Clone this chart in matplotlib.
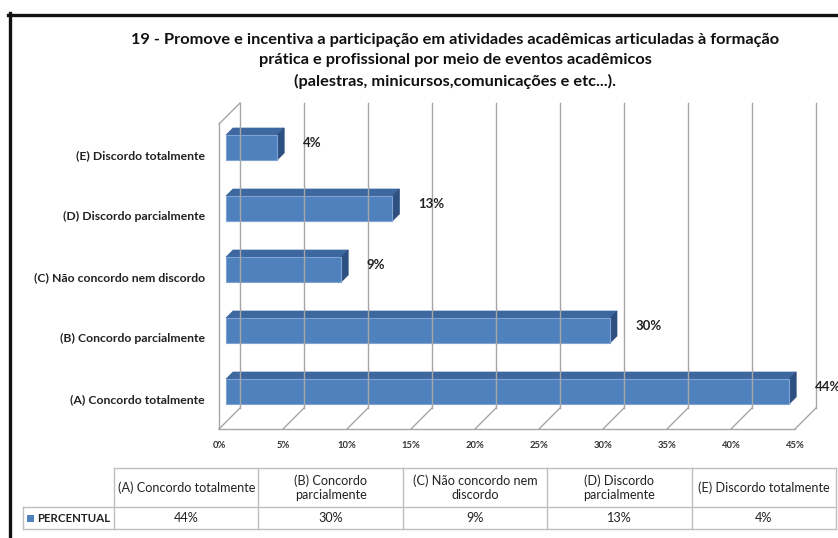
import matplotlib
matplotlib.use("Agg")
import matplotlib.pyplot as plt
from matplotlib.patches import Polygon, Rectangle
from matplotlib.lines import Line2D

plt.rcParams['font.family'] = ['Lato', 'DejaVu Sans']

# data (bottom to top, as drawn)
categories = ['(A) Concordo totalmente', '(B) Concordo parcialmente',
              '(C) Não concordo nem discordo', '(D) Discordo parcialmente',
              '(E) Discordo totalmente']
header_labels = ['(A) Concordo totalmente', '(B) Concordo\nparcialmente',
                 '(C) Não concordo nem\ndiscordo', '(D) Discordo\nparcialmente',
                 '(E) Discordo totalmente']
values = [44, 30, 9, 13, 4]
xticks = list(range(0, 50, 5))
series_name = 'PERCENTUAL'
title = ('19 - Promove e incentiva a participação em atividades acadêmicas articuladas à formação\n'
         'prática e profissional por meio de eventos acadêmicos\n'
         '(palestras, minicursos,comunicações e etc...).')

W, H = 838, 538
def px(x0, y0, x1, y1):
    return [x0 / W, 1 - y1 / H, (x1 - x0) / W, (y1 - y0) / H]

fig = plt.figure(figsize=(W / 100, H / 100), dpi=100)

# outer frame (left and top only, the rest is cropped)
fig.add_artist(Line2D([9.5 / W, 9.5 / W], [0, 1 - 13 / H], color='#111111', lw=2.4))
fig.add_artist(Line2D([8 / W, 1], [1 - 14.5 / H, 1 - 14.5 / H], color='#111111', lw=2.4))

fig.text(455 / W, 1 - 61 / H, title, ha='center', va='center', fontsize=11.8,
         fontweight='bold', linespacing=1.55, color='#111111')

# 3D-looking bar chart
DX = 21 / 12.8      # depth offset in % units
DY = 21 / 61.0      # depth offset in category units
ax = fig.add_axes(px(219, 103, 816, 429))
ax.set_xlim(0, 45 + DX)
ax.set_ylim(-0.5, 4.5 + DY)
ax.patch.set_visible(False)
for s in ax.spines.values():
    s.set_visible(False)

grid = '#a6a6a6'
for t in xticks:
    ax.plot([t + DX, t + DX], [-0.5 + DY, 4.5 + DY], color=grid, lw=1, clip_on=False)
    ax.plot([t, t + DX], [-0.5, -0.5 + DY], color=grid, lw=1, clip_on=False)
ax.plot([0, 45], [-0.5, -0.5], color=grid, lw=1, clip_on=False)
ax.plot([0, 0], [-0.5, 4.5], color=grid, lw=1, clip_on=False)
ax.plot([0, DX], [4.5, 4.5 + DY], color=grid, lw=1, clip_on=False)

front = '#4f81bd'
top = '#3d679f'
side = '#2d5080'
bh = 0.41
d = DX / 3
e = DY / 3
for i, v in enumerate(values):
    x0 = d
    x1 = d + v
    yb = i + e - bh / 2
    yt = i + e + bh / 2
    ax.add_patch(Polygon([(x0, yt), (x1, yt), (x1 + d, yt + e), (x0 + d, yt + e)],
                         closed=True, fc=top, ec=top, lw=0.5, clip_on=False))
    ax.add_patch(Polygon([(x1, yb), (x1, yt), (x1 + d, yt + e), (x1 + d, yb + e)],
                         closed=True, fc=side, ec=side, lw=0.5, clip_on=False))
    ax.add_patch(Rectangle((x0, yb), v, bh, fc=front, ec='#7fa3d3', lw=0.8, clip_on=False))
    ax.text(x1 + 2.0, i + e + 0.08, f'{v}%', ha='left', va='center', fontsize=9.5,
            fontweight='bold', color='#222222', clip_on=False)

ax.set_yticks(range(len(categories)))
ax.set_yticklabels(categories, fontsize=8.8, fontweight='bold', color='#222222')
ax.set_xticks(xticks)
ax.set_xticklabels([f'{t}%' for t in xticks], fontsize=6.8, fontweight='bold', color='#333333')
ax.tick_params(axis='y', length=0, pad=10)
ax.tick_params(axis='x', length=0, pad=9)

# data table below the chart
tx = fig.add_axes(px(23, 468, 836, 529))
tx.set_xlim(23, 836)
tx.set_ylim(529, 468)
tx.axis('off')
line = '#bfbfbf'
col0 = 114
n = len(categories)
cw = (836 - col0) / n
# horizontal lines
tx.plot([col0, 836], [468, 468], color=line, lw=1, clip_on=False)
tx.plot([23, 836], [507, 507], color=line, lw=1, clip_on=False)
tx.plot([23, 836], [529, 529], color=line, lw=1, clip_on=False)
tx.plot([23, 23], [507, 529], color=line, lw=1, clip_on=False)
for k in range(n + 1):
    xk = col0 + k * cw
    tx.plot([xk, xk], [468, 529], color=line, lw=1, clip_on=False)
for k in range(n):
    cx = col0 + (k + 0.5) * cw
    tx.text(cx, 487.5, header_labels[k], ha='center', va='center', fontsize=9.1,
            color='#222222', linespacing=1.2)
    tx.text(cx, 518.5, f'{values[k]}%', ha='center', va='center', fontsize=9.1,
            color='#222222')
tx.add_patch(Rectangle((27, 514.5), 7, 7, fc=front, ec='none', clip_on=False))
tx.text(37, 518.5, series_name, ha='left', va='center', fontsize=8.3,
        fontweight='bold', color='#222222')

fig.savefig('out.png', dpi=100)
